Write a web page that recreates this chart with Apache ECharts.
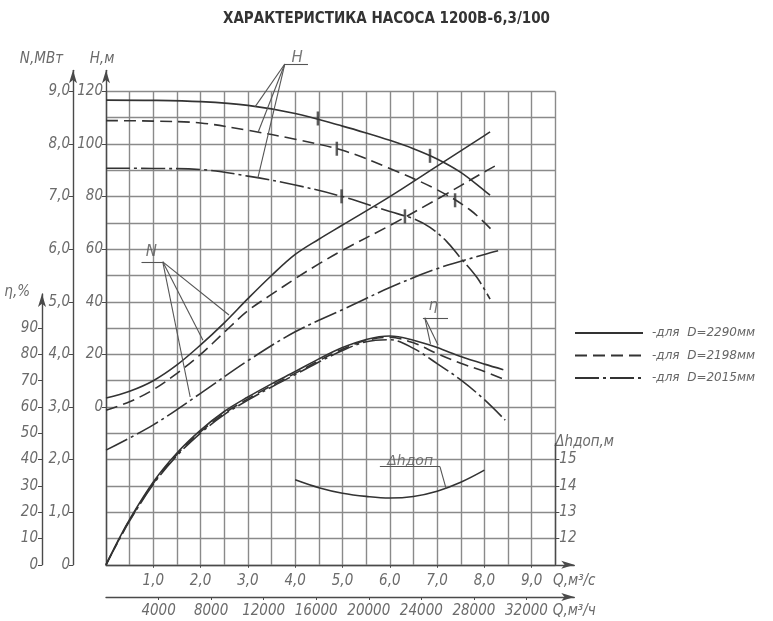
<!DOCTYPE html>
<html><head><meta charset="utf-8">
<script src="https://cdn.jsdelivr.net/npm/echarts@6/dist/echarts.min.js"></script>
<style>html,body{margin:0;padding:0;background:#fff}#c{width:773px;height:621px}</style>
</head><body><div id="c"></div>
<script>
// ---------------- DATA ----------------
const chartTitle = 'ХАРАКТЕРИСТИКА НАСОСА 1200В-6,3/100';
const seriesNames = ['-для  D=2290мм', '-для  D=2198мм', '-для  D=2015мм'];

const qTicks = [1, 2, 3, 4, 5, 6, 7, 8, 9];
const qhTicks = [4000, 8000, 12000, 16000, 20000, 24000, 28000, 32000];
const hTicks = [0, 20, 40, 60, 80, 100, 120];
const nTicks = [0, 1, 2, 3, 4, 5, 6, 7, 8, 9];
const etaTicks = [0, 10, 20, 30, 40, 50, 60, 70, 80, 90];
const dhTicks = [12, 13, 14, 15];

// Head H, m
const hQ2290 = [0, 1, 2, 3, 4, 5, 5.5, 6, 6.5, 7, 7.5, 8, 8.12];
const h2290  = [116.7, 116.6, 116.1, 114.7, 111.6, 106.8, 104.2, 101.4, 98.2, 94.3, 89.2, 82.3, 80.6];
const hQ2198 = [0, 1, 2, 3, 4, 5, 6, 7, 7.7, 8.19];
const h2198  = [108.9, 108.7, 108.0, 105.2, 101.8, 97.6, 90.7, 82.6, 74.9, 66.7];
const hQ2015 = [0, 1, 2, 3, 4, 5, 6, 6.5, 6.85, 7.2, 7.48, 7.84, 8.12];
const h2015  = [90.8, 90.7, 90.3, 87.8, 84.4, 80.0, 74.3, 71.6, 68.3, 63.0, 57.0, 49.3, 41.0];

// Power N, MW
const nQ2290 = [0, 0.5, 1, 1.5, 2, 2.5, 3, 3.5, 4, 4.5, 5, 6, 7, 8, 8.12];
const n2290  = [3.17, 3.3, 3.5, 3.8, 4.18, 4.6, 5.06, 5.5, 5.9, 6.19, 6.46, 7.0, 7.58, 8.16, 8.23];
const nQ2198 = [0, 0.5, 1, 1.5, 2, 2.5, 3, 3.5, 4, 4.5, 5, 6, 7, 8, 8.22];
const n2198  = [2.94, 3.1, 3.33, 3.64, 4.0, 4.42, 4.83, 5.14, 5.44, 5.72, 5.98, 6.45, 6.95, 7.47, 7.58];
const nQ2015 = [0, 1, 2, 3, 4, 5, 6, 7, 8, 8.29];
const n2015  = [2.18, 2.66, 3.26, 3.88, 4.43, 4.85, 5.27, 5.63, 5.9, 5.97];

// Efficiency eta, %
const eQ2290 = [0, 0.25, 0.5, 1, 1.5, 2, 2.5, 3, 3.5, 4, 4.5, 5, 5.5, 6, 6.5, 7, 7.5, 8, 8.4];
const e2290  = [0, 9, 17.3, 31.5, 42.5, 51.2, 58.3, 63.8, 68.8, 73.5, 78.3, 82.6, 85.7, 87.0, 85.4, 82.6, 79.2, 76.3, 74.2];
const eQ2198 = [0, 0.25, 0.5, 1, 1.5, 2, 2.5, 3, 3.5, 4, 4.5, 5, 5.5, 6, 6.5, 7, 7.5, 8, 8.4];
const e2198  = [0, 8.8, 17, 31, 42, 50.6, 57.6, 63.1, 68.1, 72.8, 77.6, 82, 85.3, 86.5, 84.4, 80.3, 76.6, 73.5, 70.6];
const eQ2015 = [0, 0.25, 0.5, 1, 1.5, 2, 2.5, 3, 3.5, 4, 4.5, 5, 5.5, 6, 6.5, 7, 7.5, 8, 8.44];
const e2015  = [0, 8.6, 16.7, 30.6, 41.5, 50.1, 57.1, 62.6, 67.6, 72.3, 77.1, 81.5, 84.8, 85.6, 82.3, 76.5, 70.3, 62.8, 55];

// NPSH required, m
const dhQ = [4.0, 4.5, 5.0, 5.5, 6.0, 6.5, 7.0, 7.5, 8.0];
const dh  = [14.23, 13.93, 13.72, 13.6, 13.54, 13.6, 13.8, 14.14, 14.6];

// working-range marks on H curves
const mark2290Q = [4.48, 6.85], mark2290H = [109.7, 95.5];
const mark2198Q = [4.88, 7.38], mark2198H = [98.2, 78.6];
const mark2015Q = [4.98, 6.32], mark2015H = [80.1, 72.5];

// curve labels and leader lines (data units)
const hLabel = [4.04, 132.6];
const hUnder = [[3.78, 130.4], [4.27, 130.4]];
const hOrigin = [3.78, 130.4];
const hLeadEnds = [[3.15, 114.1], [3.21, 104.2], [3.21, 87.0]];
const nLabel = [0.96, 5.95];
const nUnder = [[0.75, 5.76], [1.2, 5.76]];
const nOrigin = [1.2, 5.76];
const nLeadEnds = [[2.6, 4.75], [2.05, 4.27], [1.78, 3.19]];
const eLabel = [6.92, 98.2];
const eUnder = [[6.7, 93.9], [7.23, 93.9]];
const eOrigin = [6.74, 93.9];
const eLeadEnds = [[7.02, 83.6], [6.86, 84.0]];
const dLabel = [6.43, 14.95];
const dUnder = [[5.79, 14.73], [7.06, 14.73]];
const dOrigin = [7.06, 14.73];
const dLeadEnds = [[7.19, 13.9]];

// ---------------- LAYOUT ----------------
const X0 = 106, PXQ = 47.3, YH0 = 407, PXH = 2.63;
const yOfH = h => YH0 - h * PXH;
const BOT = yOfH(-60);
const FONT = '"Liberation Sans Narrow","Arial Narrow","DejaVu Sans Condensed",sans-serif';
const tickText = { fontFamily: FONT, fontStyle: 'italic', fontSize: 15, color: '#6b6b6b' };
const axisLn = { show: true, onZero: false, lineStyle: { color: '#4a4a4a', width: 1.4 } };
const arrowLn = Object.assign({}, axisLn, { symbol: ['none', 'arrow'], symbolSize: [6, 13] });
const fmt1 = v => v.toFixed(1).replace('.', ',');
const zip = (a, b) => a.map((x, i) => [x, b[i]]);
const DASH = ['solid', [12, 6], [24, 4, 3, 4]];
const CURVE = '#333';

const grids = [
  { left: X0, top: yOfH(120), width: 9.5 * PXQ, height: 180 * PXH },
  { left: X0, top: yOfH(128), width: 9.9 * PXQ, height: BOT - yOfH(128) },
  { left: 42, top: BOT - 103 * PXH, width: 20, height: 103 * PXH },
  { left: X0 + 9.5 * PXQ - 20, top: BOT - 4.6 * 10 * PXH, width: 20, height: 4.6 * 10 * PXH },
  { left: X0, top: 596, width: 9.9 * PXQ, height: 1 }
].map(g => Object.assign({ containLabel: false, outerBoundsMode: 'none', show: false }, g));

const xAxes = [
  { gridIndex: 0, type: 'value', min: 0, max: 9.5, interval: 0.5,
    axisLine: { show: false }, axisTick: { show: false }, axisLabel: { show: false },
    splitLine: { show: true, lineStyle: { color: '#8a8a8a', width: 1.4 } } },
  { gridIndex: 1, type: 'value', min: 0, max: 9.9, axisLine: arrowLn,
    axisTick: { show: true, customValues: qTicks, length: 3, lineStyle: { color: '#4a4a4a' } },
    axisLabel: Object.assign({ customValues: qTicks, formatter: fmt1, margin: 9 }, tickText),
    splitLine: { show: false },
    name: 'Q,м³/с', nameLocation: 'end', nameGap: 0,
    nameTextStyle: Object.assign({ align: 'center', verticalAlign: 'top', padding: [9, 0, 0, 0] }, tickText) },
  { gridIndex: 2, type: 'value', min: 0, max: 1, show: false },
  { gridIndex: 3, type: 'value', min: 0, max: 1, show: false },
  { gridIndex: 4, type: 'value', min: 0, max: 9.9 * 3600, position: 'bottom', axisLine: arrowLn,
    axisTick: { show: true, customValues: qhTicks, length: 3, lineStyle: { color: '#4a4a4a' } },
    axisLabel: Object.assign({ customValues: qhTicks, margin: 7, formatter: v => String(v) }, tickText),
    splitLine: { show: false },
    name: 'Q,м³/ч', nameLocation: 'end', nameGap: 0,
    nameTextStyle: Object.assign({ align: 'center', verticalAlign: 'top', padding: [7, 0, 0, 0] }, tickText) }
];

const yAxes = [
  { gridIndex: 0, type: 'value', min: -60, max: 120, interval: 10,
    axisLine: { show: false }, axisTick: { show: false }, axisLabel: { show: false },
    splitLine: { show: true, lineStyle: { color: '#8a8a8a', width: 1.4 } } },
  { gridIndex: 0, type: 'value', min: 0, max: 9, show: false },
  { gridIndex: 0, type: 'value', min: 0, max: 180, show: false },
  { gridIndex: 0, type: 'value', min: 11, max: 29, show: false },
  { gridIndex: 1, type: 'value', min: -60, max: 128, position: 'left', axisLine: arrowLn,
    axisTick: { show: true, customValues: hTicks, length: 4, lineStyle: { color: '#4a4a4a' } },
    axisLabel: Object.assign({ customValues: hTicks, margin: 3 }, tickText),
    splitLine: { show: false },
    name: 'Н,м', nameLocation: 'end', nameGap: 4,
    nameTextStyle: Object.assign({ align: 'center', verticalAlign: 'bottom', padding: [0, 8, 0, 0] }, tickText) },
  { gridIndex: 1, type: 'value', min: 0, max: 9.4, position: 'left', offset: X0 - 73, axisLine: arrowLn,
    axisTick: { show: true, customValues: nTicks, length: 4, lineStyle: { color: '#4a4a4a' } },
    axisLabel: Object.assign({ customValues: nTicks, margin: 3, formatter: v => v === 0 ? '0' : fmt1(v) }, tickText),
    splitLine: { show: false },
    name: 'N,МВт', nameLocation: 'end', nameGap: 4,
    nameTextStyle: Object.assign({ align: 'right', verticalAlign: 'bottom', padding: [0, 10, 0, 0] }, tickText) },
  { gridIndex: 2, type: 'value', min: 0, max: 103, position: 'left', axisLine: arrowLn,
    axisTick: { show: true, customValues: etaTicks, length: 4, lineStyle: { color: '#4a4a4a' } },
    axisLabel: Object.assign({ customValues: etaTicks, margin: 4 }, tickText),
    splitLine: { show: false },
    name: 'η,%', nameLocation: 'end', nameGap: 2,
    nameTextStyle: Object.assign({ align: 'right', verticalAlign: 'middle', padding: [0, 12, 0, 0] }, tickText) },
  { gridIndex: 3, type: 'value', min: 11, max: 15.6, position: 'right', axisLine: axisLn,
    axisTick: { show: true, customValues: dhTicks, length: 4, lineStyle: { color: '#4a4a4a' } },
    axisLabel: Object.assign({ customValues: dhTicks, margin: 4 }, tickText),
    splitLine: { show: false },
    name: 'Δhдоп,м', nameLocation: 'end', nameGap: 2,
    nameTextStyle: Object.assign({ align: 'left', verticalAlign: 'middle' }, tickText) },
  { gridIndex: 4, type: 'value', min: 0, max: 1, show: false }
];

const series = [];
const hSets = [[hQ2290, h2290], [hQ2198, h2198], [hQ2015, h2015]];
const nSets = [[nQ2290, n2290], [nQ2198, n2198], [nQ2015, n2015]];
const eSets = [[eQ2290, e2290], [eQ2198, e2198], [eQ2015, e2015]];
const mSets = [[mark2290Q, mark2290H], [mark2198Q, mark2198H], [mark2015Q, mark2015H]];
const curve = (name, yi, data, i) => ({
  type: 'line', name, xAxisIndex: 0, yAxisIndex: yi, data, smooth: 0.35, symbol: 'none',
  lineStyle: { color: CURVE, width: 1.6, type: DASH[i] }, itemStyle: { color: CURVE }, z: 3
});
for (let i = 0; i < 3; i++) {
  series.push(curve(seriesNames[i], 0, zip(hSets[i][0], hSets[i][1]), i));
  series.push(curve(seriesNames[i], 1, zip(nSets[i][0], nSets[i][1]), i));
  series.push(curve(seriesNames[i], 2, zip(eSets[i][0], eSets[i][1]), i));
  series.push({ type: 'scatter', name: 'mark' + i, xAxisIndex: 0, yAxisIndex: 0,
    data: zip(mSets[i][0], mSets[i][1]), symbol: 'rect', symbolSize: [2.5, 14],
    itemStyle: { color: CURVE }, z: 4 });
}
series.push({ type: 'line', name: 'dh', xAxisIndex: 0, yAxisIndex: 3, data: zip(dhQ, dh), smooth: 0.4,
  symbol: 'none', lineStyle: { color: CURVE, width: 1.6 }, z: 3 });

// annotations
const annot = (yi, label, text, under, origin, ends, size) => {
  const segs = [{ coords: under }].concat(ends.map(e => ({ coords: [origin, e] })));
  series.push({ type: 'lines', coordinateSystem: 'cartesian2d', xAxisIndex: 0, yAxisIndex: yi,
    data: segs, clip: false, silent: true, lineStyle: { color: '#555', width: 1.1, opacity: 1 }, z: 5 });
  series.push({ type: 'scatter', xAxisIndex: 0, yAxisIndex: yi, data: [label], clip: false,
    symbolSize: 1, itemStyle: { color: 'rgba(0,0,0,0)' }, silent: true, z: 6,
    label: { show: true, position: 'inside', formatter: text,
      fontFamily: '"DejaVu Sans",sans-serif', fontStyle: 'italic', fontSize: size, color: '#555' } });
};
annot(0, hLabel, 'H', hUnder, hOrigin, hLeadEnds, 15);
annot(1, nLabel, 'N', nUnder, nOrigin, nLeadEnds, 15);
annot(2, eLabel, 'η', eUnder, eOrigin, eLeadEnds, 15);
annot(3, dLabel, 'Δhдоп', dUnder, dOrigin, dLeadEnds, 14);

const chart = echarts.init(document.getElementById('c'), null, { renderer: 'canvas' });
chart.setOption({
  animation: false,
  backgroundColor: '#fff',
  title: { text: chartTitle, left: 'center', top: 7,
    textStyle: { fontFamily: FONT, fontWeight: 'bold', fontSize: 15, color: '#333' } },
  legend: { data: seriesNames, orient: 'vertical', left: 569, top: 322, itemWidth: 68, itemHeight: 14,
    itemGap: 10.5, selectedMode: false, itemStyle: { opacity: 0 },
    textStyle: { fontFamily: '"DejaVu Sans",sans-serif', fontStyle: 'italic', fontSize: 12, color: '#666',
      padding: [0, 0, 0, 4] } },
  grid: grids, xAxis: xAxes, yAxis: yAxes, series
});
</script></body></html>
